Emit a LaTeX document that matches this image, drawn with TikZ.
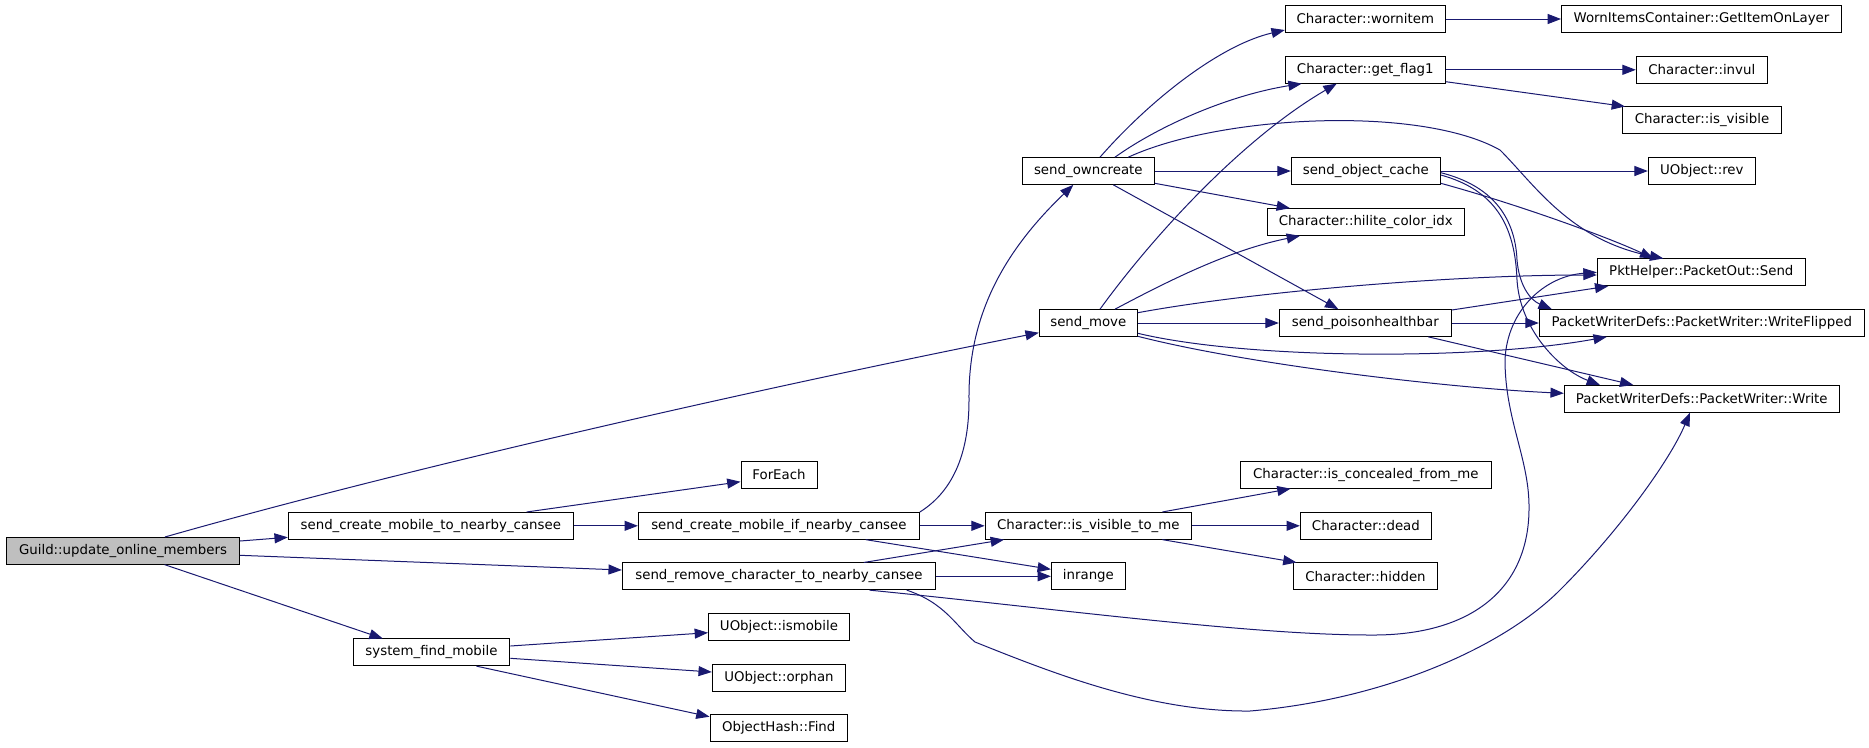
\documentclass[tikz,border=0pt]{standalone}
\usepackage{fontspec}
\setmainfont{DejaVu Sans}
\usetikzlibrary{arrows.meta,calc}
\definecolor{edgecol}{HTML}{191970}
\definecolor{rootfill}{HTML}{BFBFBF}
\begin{document}
\begin{tikzpicture}[x=0.75pt,y=-0.75pt,
  fn/.style={draw=black, line width=0.75pt, inner sep=0pt, minimum height=20pt, fill=white,
    font=\fontsize{10pt}{12pt}\selectfont},
  cg/.style={draw=edgecol, line width=0.75pt, -{Triangle[length=10pt,width=7.5pt]}}]
\useasboundingbox (0,0) rectangle (1869,747);
% column 1
\node[fn, fill=rootfill, minimum width=174.75pt] (guild) at (123,550.8) {Guild::update\_online\_members};
% column 2
\node[fn, minimum width=213.75pt] (scmtn) at (430.8,525.8) {send\_create\_mobile\_to\_nearby\_cansee};
\node[fn, minimum width=117.5pt] (sfm) at (431.5,652.3) {system\_find\_mobile};
% column 3
\node[fn, minimum width=57pt] (foreach) at (779,474.8) {ForEach};
\node[fn, minimum width=210.75pt] (scmif) at (778.9,525.8) {send\_create\_mobile\_if\_nearby\_cansee};
\node[fn, minimum width=235pt] (src) at (779,576.3) {send\_remove\_character\_to\_nearby\_cansee};
\node[fn, minimum width=105.75pt] (ismobile) at (779,627) {UObject::ismobile};
\node[fn, minimum width=100pt] (orphan) at (779,678) {UObject::orphan};
\node[fn, minimum width=103pt] (find) at (778.7,728.3) {ObjectHash::Find};
% column 4
\node[fn, minimum width=99pt] (owncreate) at (1088.3,171) {send\_owncreate};
\node[fn, minimum width=73.5pt] (sendmove) at (1088.3,323) {send\_move};
\node[fn, minimum width=154.7pt] (isvistome) at (1088.3,525.8) {Character::is\_visible\_to\_me};
\node[fn, minimum width=55.5pt] (inrange) at (1088.4,576.3) {inrange};
% column 5
\node[fn, minimum width=120pt] (wornitem) at (1365.3,19) {Character::wornitem};
\node[fn, minimum width=120pt] (getflag) at (1365.3,69.8) {Character::get\_flag1};
\node[fn, minimum width=111.75pt] (objcache) at (1365.8,171) {send\_object\_cache};
\node[fn, minimum width=147.75pt] (hilite) at (1365.8,222) {Character::hilite\_color\_idx};
\node[fn, minimum width=129pt] (poison) at (1365.3,323) {send\_poisonhealthbar};
\node[fn, minimum width=188.5pt] (concealed) at (1365.8,474.8) {Character::is\_concealed\_from\_me};
\node[fn, minimum width=98.25pt] (dead) at (1365.9,525.8) {Character::dead};
\node[fn, minimum width=108.2pt] (hidden) at (1365.5,576.3) {Character::hidden};
% column 6
\node[fn, minimum width=210pt] (getitem) at (1701.5,19) {WornItemsContainer::GetItemOnLayer};
\node[fn, minimum width=98.25pt] (invul) at (1701.8,69.8) {Character::invul};
\node[fn, minimum width=119.25pt] (isvisible) at (1702,120.3) {Character::is\_visible};
\node[fn, minimum width=80.25pt] (rev) at (1701.8,171) {UObject::rev};
\node[fn, minimum width=156pt] (send) at (1701.3,272.3) {PktHelper::PacketOut::Send};
\node[fn, minimum width=243.75pt] (wflip) at (1701.8,323) {PacketWriterDefs::PacketWriter::WriteFlipped};
\node[fn, minimum width=206.25pt] (write) at (1701.8,398.8) {PacketWriterDefs::PacketWriter::Write};

% edges from Guild
\draw[cg] ($(guild.north)+(42,0)$) .. controls (400,470) and (750,390) .. ($(sendmove.west)+(0,9.7)$);
\draw[cg] ($(guild.east)+(0,-9.8)$) -- ($(scmtn.west)+(0,11.5)$);
\draw[cg] ($(guild.east)+(0,4.5)$) -- ($(src.west)+(0,-6.3)$);
\draw[cg] ($(guild.south)+(41.6,0)$) -- ($(sfm.north)+(-48.8,0)$);
% send_create_mobile_to_nearby_cansee
\draw[cg] ($(scmtn.north)+(95.9,0)$) -- ($(foreach.west)+(0,6.9)$);
\draw[cg] (scmtn.east) -- (scmif.west);
% send_create_mobile_if_nearby_cansee
\draw[cg] (scmif.north east) .. controls (955,490) and (969,450) .. (969,400)
   .. controls (968,320) and (1000,255) .. ($(owncreate.south)+(-15,0)$);
\draw[cg] (scmif.east) -- (isvistome.west);
\draw[cg] ($(scmif.south)+(86.8,0)$) -- ($(inrange.west)+(0,-7)$);
% send_remove_character_to_nearby_cansee
\draw[cg] ($(src.north)+(84.8,0)$) -- ($(isvistome.south)+(-84.3,0)$);
\draw[cg] (src.east) -- (inrange.west);
\draw[cg] ($(src.south)+(90.5,0)$) .. controls (1050,608) and (1250,635) .. (1370,635)
   .. controls (1470,636) and (1528,590) .. (1529,510)
   .. controls (1530,460) and (1505,420) .. (1505,360)
   .. controls (1507,310) and (1545,276) .. (send.west);
\draw[cg] ($(src.south)+(127.7,0)$) .. controls (945,603) and (955,625) .. (975,642)
   .. controls (1050,672) and (1150,712) .. (1250,711)
   .. controls (1380,700) and (1500,650) .. (1560,590)
   .. controls (1620,530) and (1670,460) .. ($(write.south)+(-11.8,0)$);
% system_find_mobile
\draw[cg] ($(sfm.east)+(0,-6.3)$) -- ($(ismobile.west)+(0,5.7)$);
\draw[cg] ($(sfm.east)+(0,6)$) -- ($(orphan.west)+(0,-6)$);
\draw[cg] ($(sfm.south)+(45,0)$) -- ($(find.west)+(0,-11.6)$);
% Character::is_visible_to_me
\draw[cg] ($(isvistome.north)+(74.1,0)$) -- ($(concealed.south)+(-75.2,0)$);
\draw[cg] (isvistome.east) -- (dead.west);
\draw[cg] ($(isvistome.south)+(74.1,0)$) -- ($(hidden.north)+(-69,0)$);
% send_owncreate
\draw[cg] ($(owncreate.north)+(11.7,0)$) .. controls (1150,100) and (1220,45) .. ($(wornitem.west)+(0,11)$);
\draw[cg] ($(owncreate.north)+(26.7,0)$) .. controls (1160,125) and (1230,95) .. ($(getflag.south)+(-63.6,0)$);
\draw[cg] ($(owncreate.north)+(40,0)$) .. controls (1220,115) and (1420,105) .. (1500,150)
   .. controls (1535,185) and (1570,240) .. ($(send.north)+(-38,0)$);
\draw[cg] (owncreate.east) -- (objcache.west);
\draw[cg] ($(owncreate.east)+(0,12.3)$) -- ($(hilite.north)+(-75.8,0)$);
\draw[cg] ($(owncreate.south)+(25,0)$) -- ($(poison.north)+(-27,0)$);
% send_move
\draw[cg] ($(sendmove.north)+(11.7,0)$) .. controls (1150,240) and (1240,140) .. ($(getflag.south)+(-28.6,0)$);
\draw[cg] ($(sendmove.north)+(26.7,0)$) .. controls (1170,280) and (1230,250) .. ($(hilite.south)+(-65.8,0)$);
\draw[cg] ($(sendmove.east)+(0,-10.3)$) .. controls (1250,292) and (1450,275) .. ($(send.west)+(0,2.7)$);
\draw[cg] (sendmove.east) -- (poison.west);
\draw[cg] ($(sendmove.east)+(0,10.3)$) .. controls (1250,360) and (1480,360) .. ($(wflip.south)+(-95,0)$);
\draw[cg] ($(sendmove.east)+(0,13.3)$) .. controls (1250,365) and (1450,388) .. ($(write.west)+(0,-5.5)$);
% Character::wornitem / get_flag1
\draw[cg] (wornitem.east) -- (getitem.west);
\draw[cg] (getflag.east) -- (invul.west);
\draw[cg] ($(getflag.east)+(0,11.9)$) -- ($(isvisible.north west)+(3,0)$);
% send_object_cache
\draw[cg] (objcache.east) -- (rev.west);
\draw[cg] ($(objcache.east)+(0,12.3)$) .. controls (1520,205) and (1610,238) .. ($(send.north)+(-48,0)$);
\draw[cg] ($(objcache.east)+(0,1.7)$) .. controls (1490,185) and (1515,215) .. (1517,260)
   .. controls (1519,285) and (1530,300) .. ($(wflip.north)+(-150,0)$);
\draw[cg] ($(objcache.east)+(0,4)$) .. controls (1495,190) and (1515,225) .. (1517,280)
   .. controls (1520,330) and (1560,370) .. ($(write.north)+(-101.8,0)$);
% send_poisonhealthbar
\draw[cg] ($(poison.east)+(0,-13)$) -- ($(send.south)+(-93,0)$);
\draw[cg] (poison.east) -- (wflip.west);
\draw[cg] ($(poison.south)+(63,0)$) -- ($(write.north)+(-68.5,0)$);
\end{tikzpicture}
\end{document}
